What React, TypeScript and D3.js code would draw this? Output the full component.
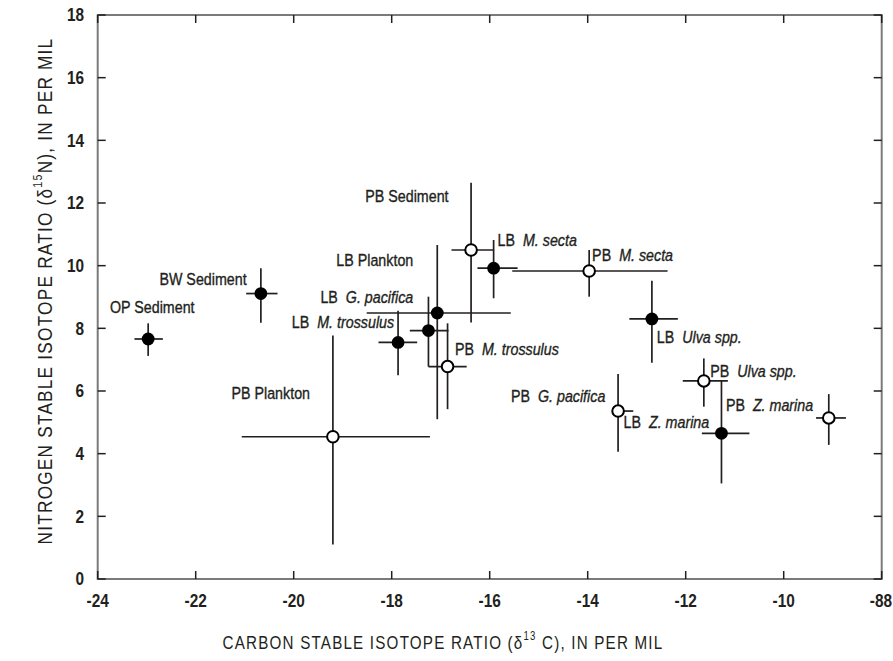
import React from 'react';
import * as d3 from 'd3';

// ---- data ----
const sampleSites = ['OP', 'BW', 'LB', 'LB', 'LB', 'PB', 'PB', 'PB', 'LB', 'PB', 'LB', 'PB', 'PB', 'LB', 'PB'];
const sampleNames = ['Sediment', 'Sediment', 'M. trossulus', 'G. pacifica', 'Plankton', 'Plankton', 'M. trossulus', 'Sediment', 'M. secta', 'M. secta', 'Ulva spp.', 'G. pacifica', 'Ulva spp.', 'Z. marina', 'Z. marina'];
const italicName = [false, false, true, true, false, false, true, false, true, true, true, true, true, true, true];
const filledMarker = [true, true, true, true, true, false, false, false, true, false, true, false, false, true, false];
const carbonMean = [-22.97, -20.67, -17.87, -17.25, -17.07, -19.2, -16.86, -16.38, -15.92, -13.97, -12.69, -13.38, -11.63, -11.27, -9.08];
const carbonLow = [-23.25, -20.97, -18.27, -17.63, -18.51, -21.06, -17.25, -16.78, -16.25, -15.54, -13.15, -13.49, -12.06, -11.67, -9.34];
const carbonHigh = [-22.67, -20.33, -17.48, -16.84, -15.57, -17.22, -16.47, -15.91, -15.43, -12.37, -12.16, -13.07, -11.14, -10.7, -8.73];
const nitrogenMean = [7.66, 9.11, 7.55, 7.93, 8.49, 4.54, 6.78, 10.5, 9.92, 9.83, 8.3, 5.36, 6.32, 4.65, 5.14];
const nitrogenLow = [7.12, 8.18, 6.5, 6.78, 5.1, 1.1, 5.42, 8.19, 8.96, 9.01, 6.9, 4.06, 5.5, 3.05, 4.28];
const nitrogenHigh = [8.16, 9.92, 8.56, 9.01, 10.66, 7.77, 8.16, 12.65, 10.82, 10.5, 9.52, 6.54, 7.04, 6.32, 5.9];

// label anchors in data units (x, baseline y) and text anchor
const labelCarbon = [-23.75, -20.96, -17.95, -17.56, -17.56, -21.27, -16.71, -16.84, -15.84, -13.91, -12.59, -13.64, -11.5, -13.27, -11.18];
const labelNitrogen = [8.5, 9.38, 8.0, 8.82, 9.99, 5.74, 7.15, 12.04, 10.63, 10.16, 7.52, 5.66, 6.44, 4.81, 5.37];
const labelAnchor = ['start', 'end', 'end', 'end', 'end', 'start', 'start', 'end', 'start', 'start', 'start', 'end', 'start', 'start', 'start'];

const xTickValues = [-24, -22, -20, -18, -16, -14, -12, -10, -8];
const xTickLabels = ['-24', '-22', '-20', '-18', '-16', '-14', '-12', '-10', '-88'];
const yTickValues = [0, 2, 4, 6, 8, 10, 12, 14, 16, 18];

const W = 893;
const H = 661;
const plotLeft = 97.7;
const plotRight = 881.7;
const plotTop = 15;
const plotBottom = 579;

const FONT = "'Liberation Sans', Arial, sans-serif";
const NARROW = 0.84;

export default function App() {
  const x = d3.scaleLinear().domain([-24, -8]).range([plotLeft, plotRight]);
  const y = d3.scaleLinear().domain([0, 18]).range([plotBottom, plotTop]);
  const tickLen = 8;
  const ink = '#231f20';

  return (
    <svg width={W} height={H} style={{ position: 'absolute', left: 0, top: 0, display: 'block', background: '#fff' }}>
      {/* frame */}
      <rect x={plotLeft} y={plotTop} width={plotRight - plotLeft} height={plotBottom - plotTop} fill="none" stroke="#7a7a7a" strokeWidth={2} />
      {/* ticks */}
      {xTickValues.map((v) => (
        <g key={'xt' + v}>
          <line x1={x(v)} x2={x(v)} y1={plotBottom} y2={plotBottom - tickLen} stroke={ink} strokeWidth={1.5} />
          <line x1={x(v)} x2={x(v)} y1={plotTop} y2={plotTop + tickLen} stroke={ink} strokeWidth={1.5} />
        </g>
      ))}
      {yTickValues.map((v) => (
        <g key={'yt' + v}>
          <line x1={plotLeft} x2={plotLeft + tickLen} y1={y(v)} y2={y(v)} stroke={ink} strokeWidth={1.5} />
          <line x1={plotRight} x2={plotRight - tickLen} y1={y(v)} y2={y(v)} stroke={ink} strokeWidth={1.5} />
        </g>
      ))}
      {/* tick labels */}
      {xTickValues.map((v, i) => {
        const last = i === xTickValues.length - 1;
        const tx = last ? W - 1 : x(v);
        return (
          <text key={'xl' + v} transform={`translate(${tx},606.5) scale(0.88,1)`} textAnchor={last ? 'end' : 'middle'}
            fontFamily={FONT} fontWeight="bold" fontSize={17.5} fill={ink}>
            {xTickLabels[i]}
          </text>
        );
      })}
      {yTickValues.map((v) => (
        <text key={'yl' + v} transform={`translate(84,${y(v)}) scale(0.88,1)`} dy="0.36em" textAnchor="end"
          fontFamily={FONT} fontWeight="bold" fontSize={17.5} fill={ink}>
          {v}
        </text>
      ))}
      {/* error bars */}
      {carbonMean.map((c, i) => (
        <g key={'eb' + i} stroke={ink} strokeWidth={1.7}>
          <line x1={x(carbonLow[i])} x2={x(carbonHigh[i])} y1={y(nitrogenMean[i])} y2={y(nitrogenMean[i])} />
          <line x1={x(c)} x2={x(c)} y1={y(nitrogenLow[i])} y2={y(nitrogenHigh[i])} />
        </g>
      ))}
      {/* markers */}
      {carbonMean.map((c, i) => (
        <circle key={'pt' + i} cx={x(c)} cy={y(nitrogenMean[i])} r={filledMarker[i] ? 6.4 : 5.8}
          fill={filledMarker[i] ? '#000' : '#fff'} stroke="#000" strokeWidth={filledMarker[i] ? 0 : 2} />
      ))}
      {/* point labels */}
      {sampleSites.map((s, i) => (
        <text key={'lb' + i} transform={`translate(${x(labelCarbon[i])},${y(labelNitrogen[i])}) scale(${NARROW},1)`}
          textAnchor={labelAnchor[i] as any} fontFamily={FONT} fontSize={17} fill={ink}
          stroke={ink} strokeWidth={0.35}>
          {italicName[i] ? (
            <>
              <tspan>{s}</tspan>
              <tspan dx={9.5} fontStyle="italic">{sampleNames[i]}</tspan>
            </>
          ) : (
            `${s} ${sampleNames[i]}`
          )}
        </text>
      ))}
      {/* axis titles */}
      <text transform="translate(443,649) scale(0.8,1)" textAnchor="middle" fontFamily={FONT} fontSize={19} letterSpacing={1.5} fill={ink}>
        CARBON STABLE ISOTOPE RATIO (δ
        <tspan dy={-9} fontSize={12}>13</tspan>
        <tspan dy={9}> C), IN PER MIL</tspan>
      </text>
      <text transform="translate(52,291) rotate(-90) scale(0.82,1)" textAnchor="middle" fontFamily={FONT} fontSize={21} letterSpacing={1.5} fill={ink}>
        NITROGEN STABLE ISOTOPE RATIO (δ
        <tspan dy={-10} fontSize={13}>15</tspan>
        <tspan dy={10}>N), IN PER MIL</tspan>
      </text>
    </svg>
  );
}
